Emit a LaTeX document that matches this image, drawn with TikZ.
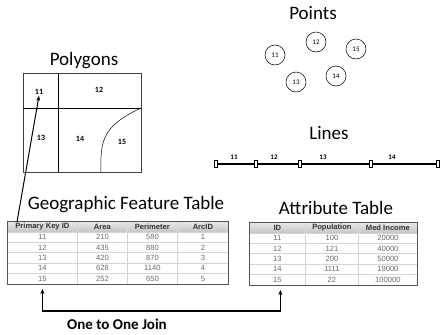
\documentclass[tikz,border=0pt]{standalone}
\usepackage{fontspec}
\setmainfont{Carlito}
\newfontfamily\tabfont{Liberation Sans}
\usetikzlibrary{matrix,arrows.meta}
\definecolor{tabborder}{HTML}{555555}
\definecolor{tabline}{HTML}{D4D4D4}
\definecolor{tabtext}{HTML}{6A6A6A}
\tikzset{
  titletext/.style={font=\fontsize{19}{22}\selectfont, inner sep=0pt},
  polylabel/.style={font=\fontsize{8}{9}\selectfont\bfseries, inner sep=1pt},
  pointcircle/.style={circle, draw, line width=0.5pt, minimum size=20pt, inner sep=0pt, font=\fontsize{7}{8}\selectfont},
  vertexbox/.style={draw, fill=white, line width=0.5pt, minimum width=3pt, minimum height=7pt, inner sep=0pt},
  linelabel/.style={font=\fontsize{7}{8}\selectfont\bfseries, inner sep=0pt},
  arcline/.style={line width=1.6pt},
  datatable/.style={matrix of nodes, inner sep=0pt, row sep=-0.4pt, column sep=-0.4pt,
    nodes={draw=tabline, line width=0.4pt, minimum height=10.4pt, inner sep=0pt,
      font=\tabfont\fontsize{7.6}{8}\selectfont, text=tabtext, anchor=center},
    row 1/.style={nodes={top color=gray!18, bottom color=gray!45, draw=gray!30,
      font=\tabfont\bfseries\fontsize{7.6}{8}\selectfont, text=black!80}}},
  tableframe/.style={draw=tabborder, line width=0.8pt},
  pointer/.style={line width=1pt, -{Stealth[length=5pt,width=4pt]}},
  joinline/.style={line width=1.3pt, {Stealth[length=5pt,width=4pt]}-{Stealth[length=5pt,width=4pt]}},
}
\begin{document}
\begin{tikzpicture}[x=1pt, y=-1pt]
\useasboundingbox (0,0) rectangle (440,335);

% ---------- Polygons ----------
\node[titletext] (polytitle) at (84,61) {Polygons};
\draw[draw=black!75, line width=0.6pt] (23,73) rectangle (141,172);
\draw[line width=0.5pt] (58,73) -- (58,172);
\draw[line width=1pt] (23,108) -- (141,108);
\draw[line width=0.5pt] (101,172) .. controls (100,140) and (103,126) .. (141,108);
\node[polylabel] (p11) at (39,92) {11};
\node[polylabel] (p12) at (99,90) {12};
\node[polylabel] (p13) at (41,138) {13};
\node[polylabel] (p14) at (80,139) {14};
\node[polylabel] (p15) at (122,142) {15};

% ---------- Points ----------
\node[titletext] (pointtitle) at (313,13) {Points};
\node[pointcircle] (q11) at (275,55) {11};
\node[pointcircle] (q12) at (316,42) {12};
\node[pointcircle] (q15) at (356,49) {15};
\node[pointcircle] (q13) at (296,82) {13};
\node[pointcircle] (q14) at (336,76) {14};

% ---------- Lines ----------
\node[titletext] (linetitle) at (329,133) {Lines};
\node[vertexbox] (v1) at (216,164) {};
\node[vertexbox] (v2) at (256,164) {};
\node[vertexbox] (v3) at (300,164) {};
\node[vertexbox] (v4) at (371,164) {};
\node[vertexbox] (v5) at (438,164) {};
\draw[arcline] (v1) -- (v2);
\draw[arcline] (v2) -- (v3);
\draw[arcline] (v3) -- (v4);
\draw[arcline] (v4) -- (v5);
\node[linelabel] (l11) at (234,157) {11};
\node[linelabel] (l12) at (274,157) {12};
\node[linelabel] (l13) at (323,157) {13};
\node[linelabel] (l14) at (392,157) {14};

% ---------- Geographic Feature Table ----------
\node[titletext] (gfttitle) at (126,205) {Geographic Feature Table};
\matrix (gft) [datatable, anchor=north west,
  column 1/.style={nodes={minimum width=70pt}},
  column 2/.style={nodes={minimum width=50pt}},
  column 3/.style={nodes={minimum width=50pt}},
  column 4/.style={nodes={minimum width=51pt}}] at (7,221) {
  Primary Key ID & Area & Perimeter & ArcID \\
  11 & 210 & 580 & 1 \\
  12 & 435 & 880 & 2 \\
  13 & 420 & 870 & 3 \\
  14 & 628 & 1140 & 4 \\
  15 & 252 & 650 & 5 \\
};
\draw[tableframe] (gft.north west) rectangle (gft.south east);

% ---------- Attribute Table ----------
\node[titletext] (attitle) at (336,208) {Attribute Table};
\matrix (at) [datatable, anchor=north west,
  column 1/.style={nodes={minimum width=56pt}},
  column 2/.style={nodes={minimum width=53pt}},
  column 3/.style={nodes={minimum width=59pt}}] at (249,222) {
  ID & Population & Med Income \\
  11 & 100 & 20000 \\
  12 & 121 & 40000 \\
  13 & 200 & 50000 \\
  14 & 1111 & 19000 \\
  15 & 22 & 100000 \\
};
\draw[tableframe] (at.north west) rectangle (at.south east);

% ---------- connectors ----------
\coordinate (pstart) at (17,222);
\draw[pointer] (pstart) -- (p11.south);

\coordinate (joinrow) at (0,311);
\draw[joinline] ([yshift=-5pt]gft-6-1.south) -- (gft-6-1.south |- joinrow)
  -- ([xshift=3pt]at-6-1.south |- joinrow) -- ([xshift=3pt,yshift=-5pt]at-6-1.south);
\node[font=\fontsize{15}{18}\selectfont\bfseries, inner sep=0pt] (jointext) at (117,324) {One to One Join};
\end{tikzpicture}
\end{document}
